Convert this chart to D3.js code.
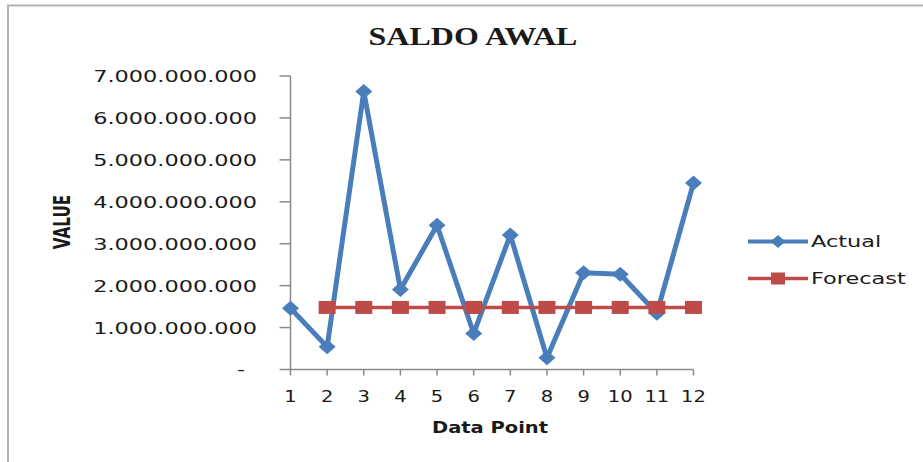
<!DOCTYPE html>
<meta charset="utf-8">
<script src="https://d3js.org/d3.v7.min.js"></script>
<style>
  body { margin: 0; background: #fff; }
  svg { display: block; }
</style>
<div id="chart"></div>
<script>
// data
var points = [1, 2, 3, 4, 5, 6, 7, 8, 9, 10, 11, 12];
var actual = [1.46e9, 0.54e9, 6.63e9, 1.91e9, 3.44e9, 0.86e9, 3.21e9, 0.28e9, 2.31e9, 2.27e9, 1.34e9, 4.45e9];
var forecast = [null, 1.48e9, 1.48e9, 1.48e9, 1.48e9, 1.48e9, 1.48e9, 1.48e9, 1.48e9, 1.48e9, 1.48e9, 1.48e9];
var yTicks = [0, 1e9, 2e9, 3e9, 4e9, 5e9, 6e9, 7e9];

var W = 923, H = 462;
var sx = 1.4; // the picture is stretched sideways, text too

var svg = d3.select("#chart").append("svg")
  .attr("width", W)
  .attr("height", H);

// chart frame (runs off the right and bottom edge)
svg.append("rect")
  .attr("x", 8).attr("y", 5.5)
  .attr("width", 1000).attr("height", 1000)
  .attr("fill", "none")
  .attr("stroke", "#b4b4b4")
  .attr("stroke-width", 2);

// helper: stretched text
function label(parent, x, y, str, o) {
  var g = parent.append("g").attr("transform", "translate(" + x + "," + y + ")");
  var t = g.append("text")
    .attr("transform", (o.rotate ? "rotate(-90) " : "") + "scale(" + (o.sx || sx) + "," + (o.sy || 1) + ")")
    .attr("text-anchor", o.anchor || "start")
    .style("font-family", o.family || "'DejaVu Sans', Verdana, sans-serif")
    .style("font-size", (o.size || 16) + "px")
    .style("font-weight", o.weight || "normal")
    .style("fill", o.fill || "#1a1a1a")
    .text(str);
  return t;
}

var x = d3.scalePoint()
  .domain(points)
  .range([290.5, 693.5]);

var y = d3.scaleLinear()
  .domain([0, 7e9])
  .range([369.5, 76]);

// title
label(svg, 473, 45, "SALDO AWAL", {anchor: "middle", family: "'Liberation Serif', 'Times New Roman', serif", size: 25, weight: "bold", sx: 1.28});

// y axis
var fmt = function(d) {
  return d === 0 ? "-" : d3.format(",")(d).replace(/,/g, ".");
};
var yAxis = svg.append("g").attr("transform", "translate(290.5,0)");
yAxis.append("line")
  .attr("y1", y(7e9)).attr("y2", y(0))
  .attr("stroke", "#8a8a8a").attr("stroke-width", 1.5);
yAxis.selectAll(".yt").data(yTicks).enter().append("line")
  .attr("x1", -11).attr("x2", 0)
  .attr("y1", function(d) { return y(d); })
  .attr("y2", function(d) { return y(d); })
  .attr("stroke", "#8a8a8a").attr("stroke-width", 1.5);
yTicks.forEach(function(d) {
  if (d === 0) label(svg, 241, y(d) + 5, "-", {anchor: "middle", size: 16});
  else label(svg, 257, y(d) + 6, fmt(d), {anchor: "end", size: 16});
});

// x axis
var xAxis = svg.append("g").attr("transform", "translate(0," + y(0) + ")");
xAxis.append("line")
  .attr("x1", x(1)).attr("x2", x(12))
  .attr("stroke", "#8a8a8a").attr("stroke-width", 1.5);
xAxis.selectAll(".xt").data(points).enter().append("line")
  .attr("x1", function(d) { return x(d); })
  .attr("x2", function(d) { return x(d); })
  .attr("y1", 0).attr("y2", 6)
  .attr("stroke", "#8a8a8a").attr("stroke-width", 1.5);
points.forEach(function(d) {
  label(svg, x(d), 402, String(d), {anchor: "middle", size: 15, sx: 1.3});
});

// axis titles
label(svg, 490, 433, "Data Point", {anchor: "middle", size: 15, weight: "bold", sx: 1.3});
label(svg, 70, 222, "VALUE", {anchor: "middle", size: 16, weight: "bold", sx: 0.95, sy: 1.4, rotate: true});

var blue = "#4a7ebb", red = "#be4b48";

var line = d3.line()
  .x(function(d) { return x(d.p); })
  .y(function(d) { return y(d.v); });

// actual line + diamond markers
var aData = points.map(function(p, i) { return {p: p, v: actual[i]}; });
svg.append("path")
  .datum(aData)
  .attr("d", line)
  .attr("fill", "none")
  .attr("stroke", blue)
  .attr("stroke-width", 5)
  .attr("stroke-linejoin", "round");

function diamond(sel, hw, hh) {
  sel.attr("d", "M0," + (-hh) + "L" + hw + ",0L0," + hh + "L" + (-hw) + ",0Z");
}
svg.selectAll(".dm").data(aData).enter().append("path")
  .attr("transform", function(d) { return "translate(" + x(d.p) + "," + y(d.v) + ")"; })
  .call(diamond, 8.5, 7.5)
  .attr("fill", blue);

// forecast line + square markers
var fData = points.map(function(p, i) { return {p: p, v: forecast[i]}; })
  .filter(function(d) { return d.v !== null; });
svg.append("path")
  .datum(fData)
  .attr("d", line)
  .attr("fill", "none")
  .attr("stroke", red)
  .attr("stroke-width", 3.5);
svg.selectAll(".sq").data(fData).enter().append("rect")
  .attr("x", function(d) { return x(d.p) - 8.5; })
  .attr("y", function(d) { return y(d.v) - 6.5; })
  .attr("width", 17).attr("height", 13)
  .attr("fill", red);

// legend
var legend = [
  {name: "Actual", color: blue, y: 241.5, shape: "diamond"},
  {name: "Forecast", color: red, y: 278.5, shape: "square"}
];
legend.forEach(function(l) {
  svg.append("line")
    .attr("x1", 748).attr("x2", 808)
    .attr("y1", l.y).attr("y2", l.y)
    .attr("stroke", l.color)
    .attr("stroke-width", l.shape === "diamond" ? 4 : 3.5);
  if (l.shape === "diamond") {
    svg.append("path")
      .attr("transform", "translate(778," + l.y + ")")
      .call(diamond, 7.5, 6.5)
      .attr("fill", l.color);
  } else {
    svg.append("rect")
      .attr("x", 771).attr("y", l.y - 6)
      .attr("width", 14).attr("height", 12)
      .attr("fill", l.color);
  }
  label(svg, 811, l.y + 5.5, l.name, {size: 16});
});
</script>
